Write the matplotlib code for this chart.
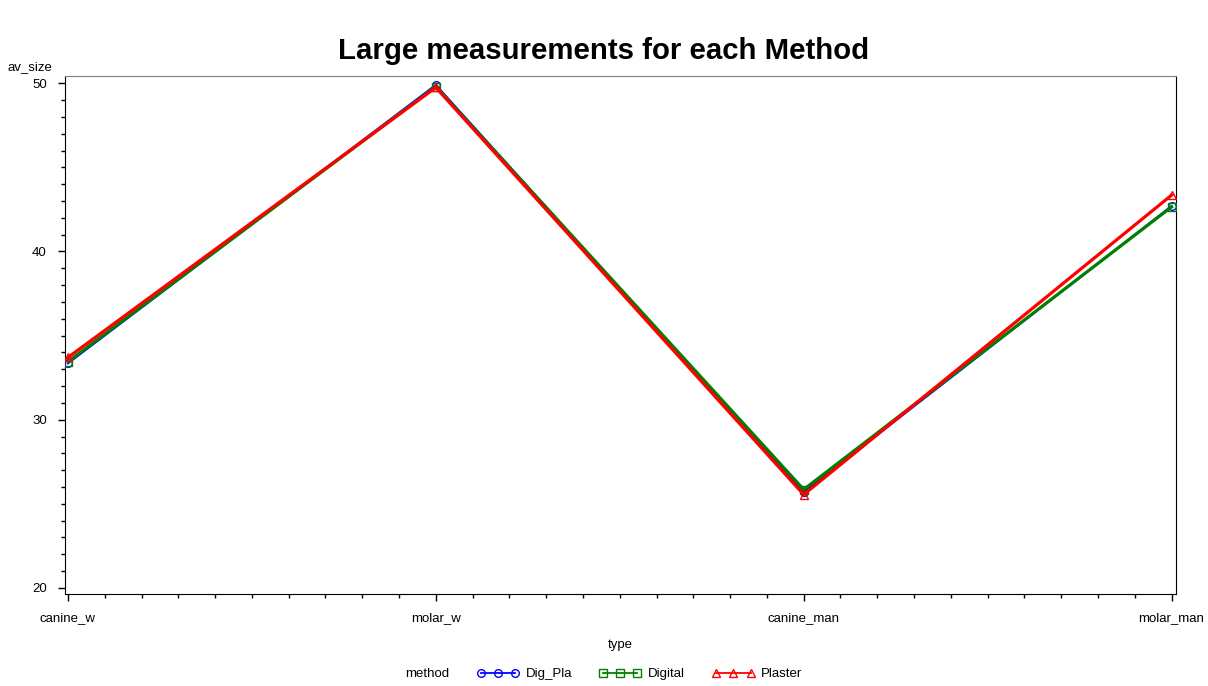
import matplotlib
matplotlib.use("Agg")
import matplotlib.pyplot as plt
from matplotlib.lines import Line2D
from matplotlib.ticker import MultipleLocator
import numpy as np

plt.rcParams["font.family"] = ["Liberation Sans", "DejaVu Sans"]

types = ["canine_w", "molar_w", "canine_man", "molar_man"]
methods = ["Dig_Pla", "Digital", "Plaster"]
dig_pla = [33.35, 49.9, 25.7, 42.7]
digital = [33.45, 49.8, 25.85, 42.65]
plaster = [33.7, 49.75, 25.55, 43.35]

series = {"Dig_Pla": dig_pla, "Digital": digital, "Plaster": plaster}
styles = {
    "Dig_Pla": dict(color="blue", marker="o", lw=1.5, zorder=3),
    "Digital": dict(color="green", marker="s", lw=2.3, zorder=4),
    "Plaster": dict(color="red", marker="^", lw=2.3, zorder=5),
}

fig = plt.figure(figsize=(12.08, 6.86), dpi=100)
ax = fig.add_axes([0.0538, 0.1341, 0.9197, 0.7556])

x = np.arange(1, len(types) + 1)
handles = []
for m in methods:
    st = styles[m]
    ax.plot(x, series[m], color=st["color"], lw=st["lw"], marker=st["marker"],
            markersize=5.5, markerfacecolor="none", markeredgewidth=1.0,
            zorder=st["zorder"])
    # legend handles are drawn thinner than the data lines
    handles.append(Line2D([], [], color=st["color"], lw=1.3, marker=st["marker"],
                          markersize=5.5, markerfacecolor="none",
                          markeredgewidth=1.0, label=m))

ax.set_xlim(0.992, 4.012)
ax.set_ylim(19.64, 50.45)
ax.set_xticks(x, types)
ax.xaxis.set_minor_locator(MultipleLocator(0.1))
ax.set_yticks([20, 30, 40, 50])
ax.yaxis.set_minor_locator(MultipleLocator(1))
ax.tick_params(which="major", direction="out", length=5, width=1, labelsize=9.5,
               pad=8)
ax.tick_params(which="minor", direction="out", length=3, width=1)
ax.spines["top"].set_color("#808080")

ax.set_xlabel("type", fontsize=9.5, labelpad=11)
fig.text(8 / 1208, 1 - 67 / 686, "av_size", fontsize=9.5, va="center", ha="left")
fig.suptitle("Large measurements for each Method", fontsize=21.2,
             fontweight="bold", y=1 - 51 / 686, va="center")

fig.text(405 / 1208, 1 - 674 / 686, "method", fontsize=9.5, va="center")
fig.legend(handles=handles, loc="center", bbox_to_anchor=(0.5294, 1 - 674 / 686),
           ncol=3, frameon=False, fontsize=9.5, numpoints=3, handlelength=3.2,
           columnspacing=2.07, handletextpad=0.5)

fig.savefig("out.png", dpi=100)
